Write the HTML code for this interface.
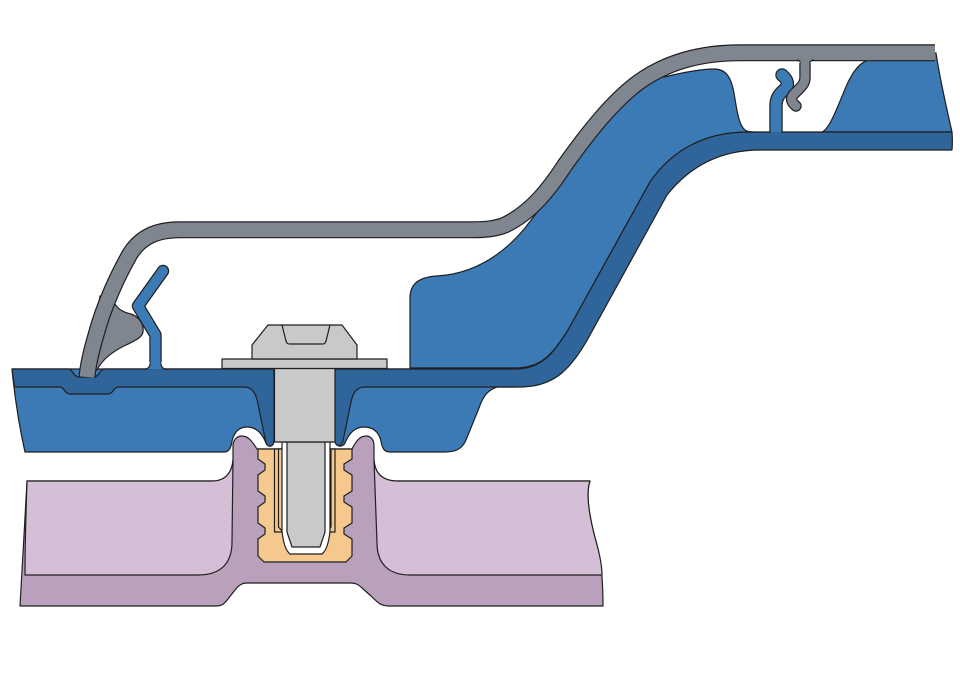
<!DOCTYPE html>
<html>
<head>
<meta charset="utf-8">
<style>
html,body{margin:0;padding:0;background:#fff;width:960px;height:679px;overflow:hidden}
svg{display:block}
</style>
</head>
<body>
<svg width="960" height="679" viewBox="0 0 960 679" xmlns="http://www.w3.org/2000/svg">
<g stroke="#1f1f1f" stroke-width="1.2" stroke-linejoin="round">

<!-- Purple part -->
<path fill="#b9a1bb" d="M27,481 L212,481 C226,481 232,472 233,460 L233,446 C233,440 237,436 242,436 C248,436 252,441 257,449 L352,449 C356,441 360,436 366,436 C371,436 374,440 374,446 L374,460 C375,473 382,481 398,481 L590,481 C585,495 590,520 597,545 C601,560 603,580 603,606 L388,606 C381,606 377,602 371,596 L362,588 C358,584 355,583 350,583 L247,583 C242,583 239,585 235,590 L228,599 C224,604 222,606 216,606 L20,606 C22,570 25,520 27,481 Z"/>
<path fill="#d5bfd6" d="M27,481 L212,481 C226,481 232,472 233,460 L232,542 C232,562 222,575 198,575 L25,575 C25,540 26,510 27,481 Z"/>
<path fill="#d5bfd6" d="M374,460 C375,473 382,481 398,481 L590,481 C585,495 590,520 597,545 C600,556 602,566 602,575 L410,575 C388,575 377,563 377,543 Z"/>

<!-- Insert -->
<path fill="#f5c88e" d="M258,449 L352,449 L352,459 L344,464 L344,470 L352,475 L352,491 L344,496 L344,502 L352,507 L352,523 L344,528 L344,534 L352,539 L352,556 L346,562 L264,562 L258,556 L258,539 L265,534 L265,528 L258,523 L258,507 L265,502 L265,496 L258,491 L258,475 L265,470 L265,464 L258,459 Z"/>
<rect x="274.5" y="449" width="60.5" height="83" fill="#f5c88e"/>
<path fill="none" d="M278.5,449 L278.5,527 L283,532 M331,449 L331,527 L327,532"/>
<path fill="#ffffff" d="M282,442 L282,531 C283,541 285,550 290,554 L322,554 C327,550 329,541 330,531 L330,442 Z"/>
<path fill="#c8c9ca" d="M287,442 L287,532 L292,547 L320,547 L325,532 L325,442 Z"/>

<!-- Blue body -->
<path fill="#3b7ab4" d="M12,369 L274,369 L274,440 C274,447 268,448 266,443 C262,433 256,427 247,427 C238,427 234,433 232,441 C231,448 229,452 224,452 L25,452 C20,430 15,400 12,369 Z"/>
<path fill="#3b7ab4" d="M335,369 L515,369 L515,387 L497,387 C488,390 483,396 479,408 L466,440 C462,449 456,452 445,452 L390,452 C384,452 382,448 381,441 C379,433 374,427 364,427 C355,427 349,433 345,443 C343,448 335,447 335,440 Z"/>
<path fill="#3b7ab4" d="M410,368 L410,298 C410,283 420,277 437,276 C470,274 500,258 525,228 L545,202 L556,178 L628,88 L700,58 L740,53 L936,53 C940,80 947,110 952,132 L748,132 C705,132 672,150 650,182 L568,330 C552,356 540,368 515,368 Z"/>
<path fill="#30659b" d="M12,369 L69,369 C72,369 74,377 79,377 L94,377 C99,377 100,369 104,369 L274,369 L274,440 C274,447 268,448 266,443 L258,404 C256,393 252,387 244,387 L118,387 C114,387 113,394 108,394 L70,394 C65,394 64,387 60,387 L14.5,387 C13.5,380 12.8,375 12,369 Z"/>
<path fill="#30659b" d="M335,369 L515,369 C540,369 552,356 568,330 L650,182 C672,150 705,132 748,132 L952,132 C952.5,138 952.5,144 952,150 L760,150 C720,150 690,166 667,195 L590,335 C572,368 555,387 520,387 L365,387 C357,387 353,392 351,402 L343,441 C342,447 335,447 335,441 Z"/>

<!-- Slot -->
<path fill="#ffffff" d="M660,74 L664,77 C685,72 702,69 714,69 C726,69 731,77 734,93 C737,112 739,124 744,129 C747,132 751,132 757,132 L822,132 C829,129 835,113 843,94 C850,76 857,64 868,60 L868,52 L735,52 L690,58 Z"/>

<!-- Right blue clip -->
<path fill="none" stroke="#1f1f1f" stroke-width="13.4" stroke-linejoin="round" d="M776,132.6 L776,106 C776,98 779,94 785,89 C789,85 788,80 782,75"/>
<circle cx="782" cy="75" r="6.7" fill="#1f1f1f" stroke="none"/>
<path fill="none" stroke="#3b7ab4" stroke-width="11" stroke-linejoin="round" d="M776,132.6 L776,106 C776,98 779,94 785,89 C789,85 788,80 782,75"/>
<circle cx="782" cy="75" r="5.5" fill="#3b7ab4" stroke="none"/>

<!-- Left blue clip -->
<path fill="#3b7ab4" d="M144,369.4 C149,369 150.5,366 150.5,359 L160.5,359 C160.5,366 162,369 167,369.4"/>
<path fill="none" stroke="#1f1f1f" stroke-width="12.4" stroke-linejoin="round" d="M155.5,362 L155.5,335 L138,306 L163,271"/>
<circle cx="163" cy="271" r="6.2" fill="#1f1f1f" stroke="none"/>
<path fill="none" stroke="#3b7ab4" stroke-width="10" stroke-linejoin="round" d="M155.5,369.4 L155.5,335 L138,306 L163,271"/>
<circle cx="163" cy="271" r="5" fill="#3b7ab4" stroke="none"/>

<!-- Bolt -->
<rect x="274.5" y="368" width="60.5" height="74" fill="#c8c9ca"/>
<rect x="222" y="359" width="165" height="9.5" fill="#c8c9ca"/>
<path fill="#c8c9ca" d="M252,359 L252,345 L268,325 L342,325 L357,345 L357,359 Z"/>
<path fill="none" d="M282,325 L286,341 C287,344 288,344 291,344 L321,344 C324,344 325,344 326,341 L330,325"/>

<!-- Gray sealant blob -->
<path fill="#7f8690" d="M113,299 C115,308 122,312 131,314 C140,317 144,325 143,332 C142,338 134,341 124,346 C112,352 102,360 97,370 L88,372 L100,296 Z"/>

<!-- Gray panel -->
<path fill="none" stroke="#1f1f1f" stroke-width="17" stroke-linejoin="round" d="M935,52.8 L740,52.8 C700,52.8 665,62 635,85 C612,103 590,130 565,165 C550,188 532,212 505,225 C495,229 485,229.8 470,229.8 L180,229.8 C155,229.8 140,238 130,254 C118,275 104,305 96,335 C91,352 88,365 87,377"/>
<path fill="none" stroke="#7f8690" stroke-width="14.6" stroke-linejoin="round" d="M935,52.8 L740,52.8 C700,52.8 665,62 635,85 C612,103 590,130 565,165 C550,188 532,212 505,225 C495,229 485,229.8 470,229.8 L180,229.8 C155,229.8 140,238 130,254 C118,275 104,305 96,335 C91,352 88,365 87,377"/>

<!-- Gray clip -->
<path fill="#7f8690" d="M797,60 C801,60.5 801,63 801,68 L809,68 C809,63 809.5,60.5 814,60"/>
<path fill="none" stroke="#1f1f1f" stroke-width="11.4" stroke-linejoin="round" d="M805,63 L805,78 C805,84 800,88 794,94 C790,98 791,102 796,106"/>
<circle cx="796" cy="106" r="5.7" fill="#1f1f1f" stroke="none"/>
<path fill="none" stroke="#7f8690" stroke-width="9" stroke-linejoin="round" d="M805,59 L805,78 C805,84 800,88 794,94 C790,98 791,102 796,106"/>
<circle cx="796" cy="106" r="4.5" fill="#7f8690" stroke="none"/>

</g>
</svg>
</body>
</html>
